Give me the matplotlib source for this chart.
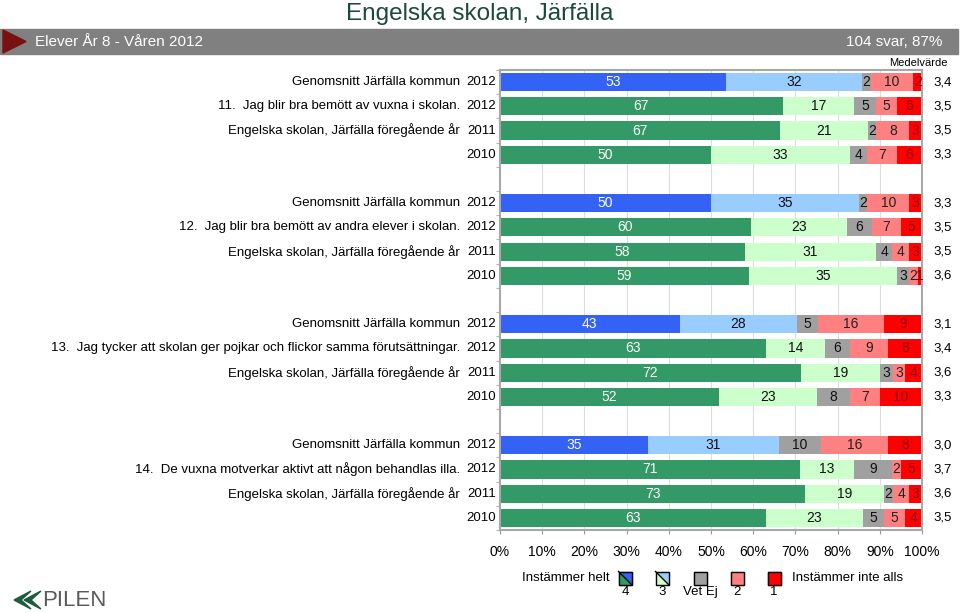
import matplotlib
matplotlib.use("Agg")
from matplotlib import pyplot as plt
from matplotlib.patches import Polygon, Rectangle
from matplotlib import transforms
import numpy as np

plt.rcParams['font.family'] = ['Liberation Sans', 'DejaVu Sans']

questions = ["11.  Jag blir bra bemött av vuxna i skolan.",
             "12.  Jag blir bra bemött av andra elever i skolan.",
             "13.  Jag tycker att skolan ger pojkar och flickor samma förutsättningar.",
             "14.  De vuxna motverkar aktivt att någon behandlas illa."]
row_names = ["Genomsnitt Järfälla kommun", None, "Engelska skolan, Järfälla föregående år", ""]
years = ["2012", "2012", "2011", "2010"]

# answers per row: 4, 3, Vet Ej, 2, 1
q11 = [[53, 32, 2, 10, 2], [67, 17, 5, 5, 6], [67, 21, 2, 8, 3], [50, 33, 4, 7, 6]]
q12 = [[50, 35, 2, 10, 3], [60, 23, 6, 7, 5], [58, 31, 4, 4, 3], [59, 35, 3, 2, 1]]
q13 = [[43, 28, 5, 16, 9], [63, 14, 6, 9, 8], [72, 19, 3, 3, 4], [52, 23, 8, 7, 10]]
q14 = [[35, 31, 10, 16, 8], [71, 13, 9, 2, 5], [73, 19, 2, 4, 3], [63, 23, 5, 5, 4]]
means11 = ["3,4", "3,5", "3,5", "3,3"]
means12 = ["3,3", "3,5", "3,5", "3,6"]
means13 = ["3,1", "3,4", "3,6", "3,3"]
means14 = ["3,0", "3,7", "3,6", "3,5"]

legend_labels = ["4", "3", "Vet Ej", "2", "1"]

blue = ["#3462f4", "#99ccff"]
green = ["#339966", "#ccffcc"]
rest = ["#a0a0a0", "#ff8080", "#ff0000"]
txt_cols = ["white", "#111111", "#111111", "#222222", "#8b0000"]

fig = plt.figure(figsize=(9.6, 6.13), dpi=100)
ax = fig.add_axes([500 / 960, 1 - 530 / 613, 422 / 960, 460 / 613])

data = [q11, q12, q13, q14]
means = [means11, means12, means13, means14]
lbl = transforms.blended_transform_factory(ax.transAxes, ax.transData)

for g, (rows, mv) in enumerate(zip(data, means)):
    for r, vals in enumerate(rows):
        y = g * 5 + r
        cols = (blue if r == 0 else green) + rest
        vals = np.array(vals, dtype=float)
        widths = vals / vals.sum() * 100
        left = 0
        for k in range(5):
            ax.barh(y, widths[k], left=left, height=0.75, color=cols[k], zorder=2)
            ax.text(left + widths[k] / 2, y, str(int(vals[k])), ha='center', va='center',
                    fontsize=10, color=txt_cols[k], zorder=3)
            left += widths[k]
        name = questions[g] if r == 1 else row_names[r]
        ax.text(-0.095, y, name, transform=lbl, ha='right', va='center', fontsize=9.5)
        ax.text(-0.01, y, years[r], transform=lbl, ha='right', va='center', fontsize=9.5)
        ax.text(1.05, y, mv[r], transform=lbl, ha='center', va='center', fontsize=9.5)

ax.text(1.0616, -0.6, "Medelvärde", transform=lbl, ha='right', va='bottom', fontsize=8)

ax.set_xlim(0, 100)
ax.set_ylim(18.5, -0.5)
ax.set_xticks(range(0, 101, 10))
ax.set_xticklabels(["{}%".format(v) for v in range(0, 101, 10)], fontsize=10)
ax.set_yticks(np.arange(-0.5, 18.6, 1))
ax.set_yticklabels([])
ax.tick_params(axis='y', length=3, color="#c8a8a8")
ax.tick_params(axis='x', length=3, color="#999999", pad=8)
ax.grid(axis='x', color="#dddddd", lw=0.8, zorder=0)
for s in ax.spines.values():
    s.set_color("#a8a8a8")
    s.set_linewidth(1.5)

# header, legend and logo on an overlay in pixel coords
ov = fig.add_axes([0, 0, 1, 1], zorder=-1)
ov.set_xlim(0, 960)
ov.set_ylim(613, 0)
ov.axis('off')

ov.text(480, 14, "Engelska skolan, Järfälla", ha='center', va='center', fontsize=17.5, color="#1c4a3a")
ov.add_patch(Rectangle((0, 29), 958, 25, color="#808080"))
ov.add_patch(Polygon([(3, 30), (3, 53), (26, 41.5)], color="#7a1010"))
ov.text(35, 41.5, "Elever År 8 - Våren 2012", ha='left', va='center', fontsize=11, color="white")
ov.text(942, 41.5, "104 svar, 87%", ha='right', va='center', fontsize=11, color="white")

fig_leg = fig.add_axes([0, 0, 1, 1], zorder=5)
fig_leg.set_xlim(0, 960)
fig_leg.set_ylim(613, 0)
fig_leg.axis('off')
lx = [625, 662, 700, 737, 774]
ly = 578
sz = 13
fig_leg.text(610, ly, "Instämmer helt", ha='right', va='center', fontsize=9.5)
fig_leg.text(792, ly, "Instämmer inte alls", ha='left', va='center', fontsize=9.5)
for i, x in enumerate(lx):
    x0, y0 = x - sz / 2, ly - sz / 2
    if i < 2:
        top_c = blue[0] if i == 0 else blue[1]
        bot_c = green[0] if i == 0 else green[1]
        fig_leg.add_patch(Polygon([(x0, y0), (x0 + sz, y0), (x0 + sz, y0 + sz)], color=top_c))
        fig_leg.add_patch(Polygon([(x0, y0), (x0, y0 + sz), (x0 + sz, y0 + sz)], color=bot_c))
        fig_leg.plot([x0, x0 + sz], [y0, y0 + sz], color="black", lw=1)
    else:
        fig_leg.add_patch(Rectangle((x0, y0), sz, sz, color=rest[i - 2]))
    fig_leg.add_patch(Rectangle((x0, y0), sz, sz, fill=False, ec="black", lw=1))
    fig_leg.text(x, 592, legend_labels[i], ha='center', va='center', fontsize=9.5)

# logo
for dx in (0, 10):
    fig_leg.add_patch(Polygon([(14 + dx, 600), (31 + dx, 591), (21 + dx, 600), (31 + dx, 609)], color="#1f5a3e"))
fig_leg.text(42, 600, "PILEN", ha='left', va='center', fontsize=16, color="#5a5a5a")

fig.savefig("out.png", dpi=100)
